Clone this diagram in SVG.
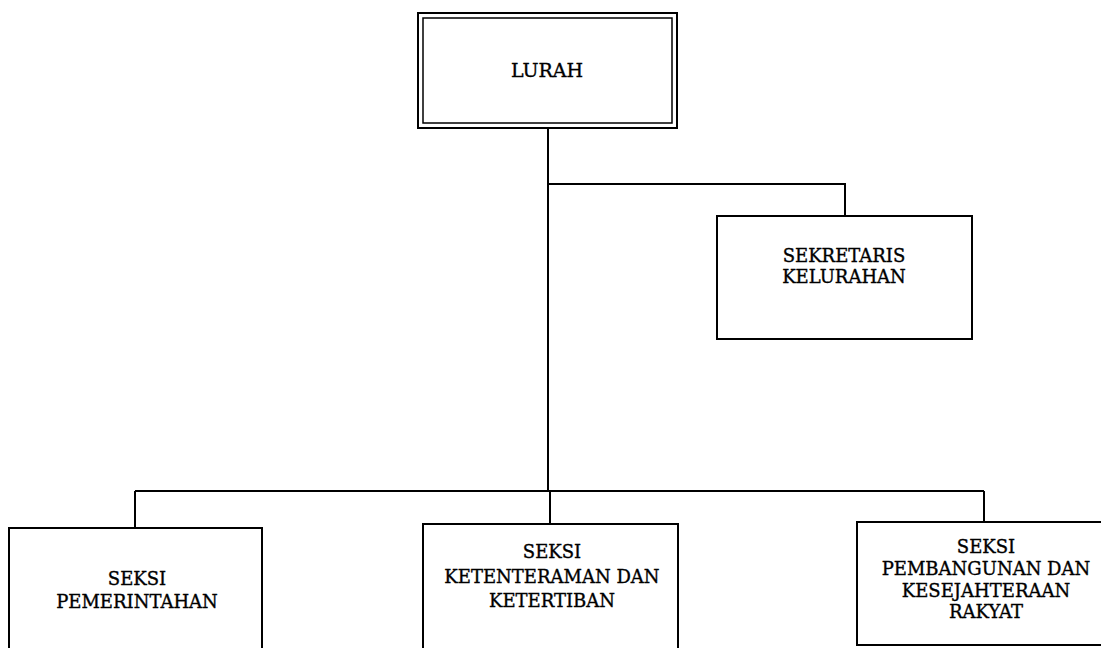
<svg xmlns="http://www.w3.org/2000/svg" width="1101" height="648" viewBox="0 0 1101 648">
<style>
.box{fill:#fff;stroke:#000;stroke-width:2}
.inner{fill:none;stroke:#000;stroke-width:1.5}
.conn{fill:none;stroke:#000;stroke-width:2}
text{font-family:"DejaVu Serif","Liberation Serif",serif;font-size:18px;fill:#000;stroke:#000;stroke-width:0.35;text-anchor:middle}
</style>
<rect width="1101" height="648" fill="#fff"/>
<g id="connectors">
<path class="conn" d="M548,128 V491"/>
<path class="conn" d="M548,184 H845 V216"/>
<path class="conn" d="M135,491 H984"/>
<path class="conn" d="M135,491 V528"/>
<path class="conn" d="M550,491 V524"/>
<path class="conn" d="M984,491 V522"/>
</g>
<g id="lurah">
<rect class="box" x="418" y="13" width="259" height="115"/>
<rect class="inner" x="423" y="18" width="249" height="105"/>
<text x="547" y="77" style="font-size:19px">LURAH</text>
</g>
<g id="sekretaris">
<rect class="box" x="717" y="216" width="255" height="123"/>
<text x="844" y="262">SEKRETARIS</text>
<text x="844" y="283">KELURAHAN</text>
</g>
<g id="pemerintahan">
<rect class="box" x="9" y="528" width="253" height="130"/>
<text x="137" y="585">SEKSI</text>
<text x="137" y="608">PEMERINTAHAN</text>
</g>
<g id="ketenteraman">
<rect class="box" x="423" y="524" width="255" height="134"/>
<text x="552" y="558">SEKSI</text>
<text x="552" y="583">KETENTERAMAN DAN</text>
<text x="552" y="607">KETERTIBAN</text>
</g>
<g id="pembangunan">
<rect class="box" x="857" y="522" width="256" height="123"/>
<text x="986" y="553">SEKSI</text>
<text x="986" y="575">PEMBANGUNAN DAN</text>
<text x="986" y="597">KESEJAHTERAAN</text>
<text x="986" y="618">RAKYAT</text>
</g>
</svg>
